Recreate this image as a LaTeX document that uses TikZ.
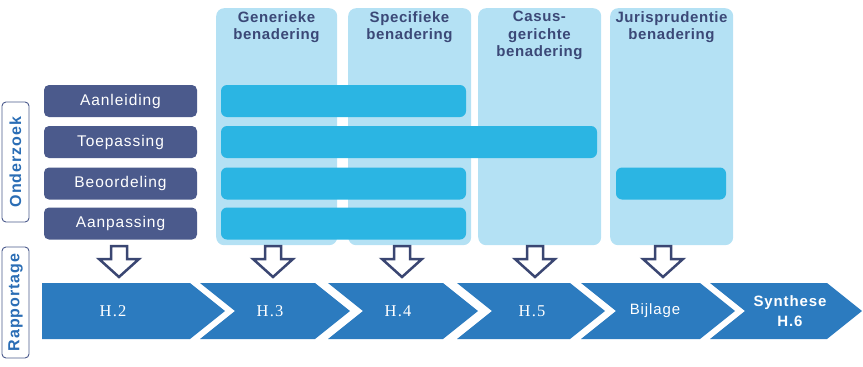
\documentclass[tikz,border=0pt]{standalone}
\usepackage{fontspec}
\setmainfont{Liberation Sans}
\newfontfamily\spacedsans[LetterSpace=6]{Liberation Sans}
\newfontfamily\headsans[LetterSpace=4]{Liberation Sans}
\newfontfamily\spacedserif[LetterSpace=8]{Liberation Serif}
\definecolor{colbg}{HTML}{B4E1F4}
\definecolor{barc}{HTML}{2BB5E3}
\definecolor{darkbox}{HTML}{4B5A8C}
\definecolor{headtxt}{HTML}{3B4877}
\definecolor{chev}{HTML}{2C7BBF}
\definecolor{sidetxt}{HTML}{2A6DB5}
\definecolor{arrowc}{HTML}{3A4672}
\begin{document}
\begin{tikzpicture}[x=1pt,y=-1pt,
  col/.style={fill=colbg, rounded corners=8pt, anchor=north west, minimum height=237, inner sep=0},
  head/.style={anchor=north, align=center, inner sep=0, text=headtxt,
    font=\headsans\bfseries\fontsize{15}{17.5}\selectfont},
  stage/.style={fill=darkbox, rounded corners=5pt, minimum width=153, minimum height=32, inner sep=0,
    text=white, font=\spacedsans\fontsize{15.5}{17}\selectfont},
  bar/.style={fill=barc, rounded corners=6pt, minimum height=32, inner sep=0},
  sidebox/.style={draw=darkbox, line width=0.9pt, rounded corners=4pt, rotate=90, minimum height=27,
    inner sep=0, text=sidetxt, font=\spacedsans\bfseries\fontsize{16}{18}\selectfont},
  chevlab/.style={text=white, inner sep=0, font=\spacedsans\fontsize{15}{17}\selectfont},
  hlab/.style={text=white, inner sep=0, font=\spacedserif\fontsize{16.5}{18}\selectfont},
  hollow/.style={draw=arrowc, fill=white, line width=2.5pt, line join=miter}
]
\useasboundingbox (0,0) rectangle (863,367);

% columns
\node[col, minimum width=121] (gen) at (216,8) {};
\node[col, minimum width=123] (spec) at (348,8) {};
\node[col, minimum width=123] (cas) at (478,8) {};
\node[col, minimum width=123] (jur) at (610,8) {};
\node[head] (genT) at (276.5,11) {Generieke\\benadering};
\node[head] (specT) at (409.5,11) {Specifieke\\benadering};
\node[head] (casT) at (539.5,11) {Casus-\\gerichte\\benadering};
\node[head] (jurT) at (671.5,11) {Jurisprudentie\\benadering};

% stage boxes
\node[stage] (s1) at (120.5,101) {Aanleiding};
\node[stage] (s2) at (120.5,142) {Toepassing};
\node[stage] (s3) at (120.5,183.5) {Beoordeling};
\node[stage] (s4) at (120.5,223.5) {Aanpassing};

% bars
\node[bar, minimum width=245] (b1) at (343.5,101) {};
\node[bar, minimum width=376] (b2) at (409,142) {};
\node[bar, minimum width=245] (b3) at (343.5,183.5) {};
\node[bar, minimum width=245] (b4) at (343.5,223.5) {};
\node[bar, minimum width=110] (b5) at (671,183.5) {};

% side labels
\node[sidebox, minimum width=120] (ond) at (15.5,162) {Onderzoek};
\node[sidebox, minimum width=111] (rap) at (15.5,302.5) {Rapportage};

% chevrons
\fill[chev] (42,283) -- (190,283) -- (225,311) -- (190,339) -- (42,339) -- cycle;
\foreach \l/\r in {200/315, 328/443, 457/570, 581/700, 710/827}{
  \fill[chev] (\l,283) -- (\r,283) -- (\r+35,311) -- (\r,339) -- (\l,339) -- (\l+35,311) -- cycle;
}
\node[hlab] (h2) at (113,311) {H.2};
\node[hlab] (h3) at (270,311) {H.3};
\node[hlab] (h4) at (398,311) {H.4};
\node[hlab] (h5) at (532,311) {H.5};
\node[chevlab] (bij) at (655,311) {Bijlage};
\node[chevlab, align=center, font=\spacedsans\bfseries\fontsize{15}{20}\selectfont] (syn) at (790,311) {Synthese\\H.6};

% hollow down arrows
\foreach \x in {119,273,402,535,663}{
  \draw[hollow] (\x-8,246) -- (\x+8,246) -- (\x+8,259) -- (\x+20,259) -- (\x,277) -- (\x-20,259) -- (\x-8,259) -- cycle;
}
\end{tikzpicture}
\end{document}
